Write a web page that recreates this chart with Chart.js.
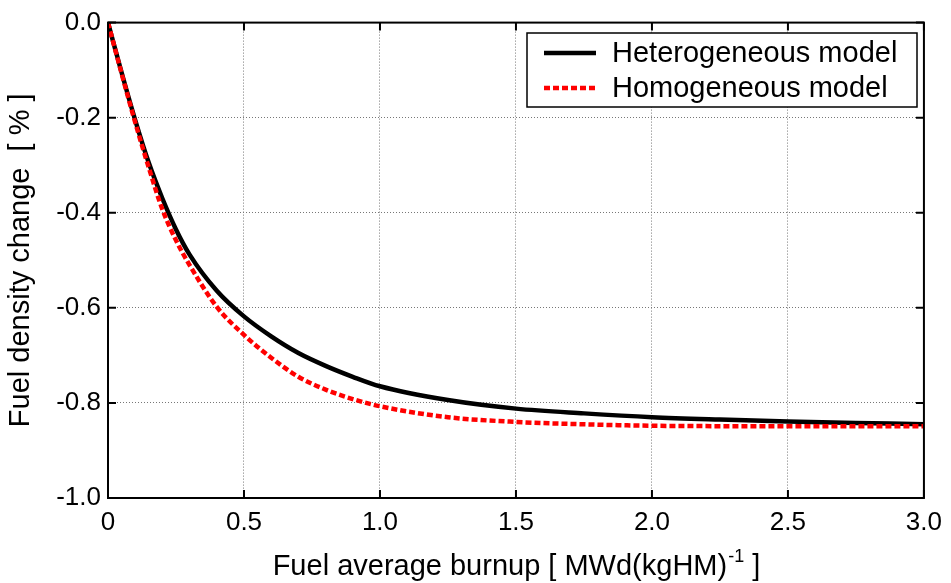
<!DOCTYPE html>
<html lang="en">
<head>
    <meta charset="UTF-8">
    <title>Fuel density change vs burnup</title>
    <script src="https://cdn.jsdelivr.net/npm/chart.js"></script>
    <style>
        body {
            margin: 0;
            background: #ffffff;
        }
        #myChart {
            display: block;
        }
    </style>
</head>
<body>

<canvas id="myChart" width="951" height="583"></canvas>

<script>
    // burnup points [MWd/kgHM]
    const burnupHetero = [0, 0.05, 0.1, 0.15, 0.2, 0.25, 0.3, 0.4, 0.5, 0.6, 0.7, 0.8, 0.9, 1.0, 1.25, 1.5, 1.75, 2.0, 2.25, 2.5, 2.75, 3.0];
    const densityHetero = [0, -0.105, -0.205, -0.295, -0.37, -0.435, -0.488, -0.564, -0.618, -0.66, -0.695, -0.722, -0.745, -0.765, -0.794, -0.812, -0.822, -0.830, -0.835, -0.839, -0.842, -0.845];

    const burnupHomo = [0, 0.05, 0.1, 0.15, 0.2, 0.25, 0.3, 0.4, 0.5, 0.6, 0.7, 0.8, 0.9, 1.0, 1.25, 1.5, 1.75, 2.0, 2.5, 3.0];
    const densityHomo = [0, -0.107, -0.21, -0.305, -0.393, -0.458, -0.51, -0.598, -0.657, -0.705, -0.745, -0.772, -0.792, -0.807, -0.830, -0.840, -0.845, -0.848, -0.849, -0.849];

    const xTickLabels = ['0', '0.5', '1.0', '1.5', '2.0', '2.5', '3.0'];
    const yTickLabels = ['-1.0', '-0.8', '-0.6', '-0.4', '-0.2', '0.0'];

    const seriesNames = ['Heterogeneous model', 'Homogeneous model'];

    const FONT = "'Liberation Sans', Arial, sans-serif";

    function toPoints(xs, ys) {
        return xs.map((x, i) => ({ x: x, y: ys[i] }));
    }

    // draws box, inward tick marks, legend and the x title with superscript
    const framePlugin = {
        id: 'frame',
        afterDraw(chart) {
            const ctx = chart.ctx;
            const area = chart.chartArea;
            const xs = chart.scales.x;
            const ys = chart.scales.y;
            const tickLen = 8;

            ctx.save();
            ctx.strokeStyle = '#000';
            ctx.lineWidth = 2;
            ctx.beginPath();
            xs.ticks.forEach(t => {
                let px = xs.getPixelForValue(t.value);
                ctx.moveTo(px, area.bottom);
                ctx.lineTo(px, area.bottom - tickLen);
                ctx.moveTo(px, area.top);
                ctx.lineTo(px, area.top + tickLen);
            });
            ys.ticks.forEach(t => {
                let py = ys.getPixelForValue(t.value);
                ctx.moveTo(area.left, py);
                ctx.lineTo(area.left + tickLen, py);
                ctx.moveTo(area.right, py);
                ctx.lineTo(area.right - tickLen, py);
            });
            ctx.stroke();
            ctx.strokeRect(area.left, area.top, area.right - area.left, area.bottom - area.top);

            // legend
            const lx = 527, ly = 33, lw = 390, lh = 74;
            ctx.fillStyle = '#fff';
            ctx.fillRect(lx, ly, lw, lh);
            ctx.lineWidth = 1.5;
            ctx.strokeRect(lx, ly, lw, lh);
            ctx.font = '29px ' + FONT;
            ctx.textBaseline = 'middle';
            chart.data.datasets.forEach((ds, i) => {
                let rowY = ly + 20 + i * 35;
                ctx.strokeStyle = ds.borderColor;
                ctx.lineWidth = ds.borderWidth;
                ctx.setLineDash(ds.borderDash || []);
                ctx.beginPath();
                ctx.moveTo(544, rowY);
                ctx.lineTo(596, rowY);
                ctx.stroke();
                ctx.setLineDash([]);
                ctx.fillStyle = '#000';
                ctx.fillText(ds.label, 612, rowY + 1);
            });

            // x axis title
            const main = 'Fuel average burnup [ MWd(kgHM)';
            const sup = '-1';
            const tail = ' ]';
            ctx.font = '29px ' + FONT;
            let wMain = ctx.measureText(main).width;
            let wTail = ctx.measureText(tail).width;
            ctx.font = '18px ' + FONT;
            let wSup = ctx.measureText(sup).width;
            let total = wMain + wSup + wTail;
            let sx = (area.left + area.right) / 2 - total / 2;
            let base = 575;
            ctx.textBaseline = 'alphabetic';
            ctx.fillStyle = '#000';
            ctx.font = '29px ' + FONT;
            ctx.fillText(main, sx, base);
            ctx.font = '18px ' + FONT;
            ctx.fillText(sup, sx + wMain + 1, base - 13);
            ctx.font = '29px ' + FONT;
            ctx.fillText(tail, sx + wMain + wSup + 1, base);
            ctx.restore();
        }
    };

    const ctx = document.getElementById('myChart').getContext('2d');
    const myChart = new Chart(ctx, {
        type: 'line',
        data: {
            datasets: [
                {
                    label: seriesNames[0],
                    data: toPoints(burnupHetero, densityHetero),
                    borderColor: '#000000',
                    borderWidth: 4.5,
                    pointRadius: 0,
                    cubicInterpolationMode: 'monotone',
                    fill: false,
                    order: 1
                },
                {
                    label: seriesNames[1],
                    data: toPoints(burnupHomo, densityHomo),
                    borderColor: '#ff0000',
                    borderWidth: 4.5,
                    borderDash: [6, 3],
                    pointRadius: 0,
                    cubicInterpolationMode: 'monotone',
                    fill: false,
                    order: 0
                }
            ]
        },
        options: {
            responsive: false,
            animation: false,
            layout: {
                padding: { top: 22, right: 23, left: 0, bottom: 0 }
            },
            plugins: {
                legend: { display: false },
                tooltip: { enabled: false }
            },
            scales: {
                x: {
                    type: 'linear',
                    min: 0,
                    max: 3,
                    afterFit(scale) { scale.height = 85; },
                    ticks: {
                        stepSize: 0.5,
                        color: '#000',
                        padding: 9,
                        maxRotation: 0,
                        font: { family: FONT, size: 26 },
                        callback: (value, index) => xTickLabels[index]
                    },
                    grid: {
                        color: '#777',
                        lineWidth: 1,
                        drawTicks: false
                    },
                    border: { display: false, dash: [1, 2] }
                },
                y: {
                    type: 'linear',
                    min: -1,
                    max: 0,
                    afterFit(scale) { scale.width = 108; },
                    ticks: {
                        stepSize: 0.2,
                        color: '#000',
                        padding: 7,
                        font: { family: FONT, size: 26 },
                        callback: (value, index) => yTickLabels[index]
                    },
                    grid: {
                        color: '#777',
                        lineWidth: 1,
                        drawTicks: false
                    },
                    border: { display: false, dash: [1, 2] },
                    title: {
                        display: true,
                        text: 'Fuel density change  [ % ]',
                        color: '#000',
                        font: { family: FONT, size: 29 },
                        padding: { top: 4, bottom: 0 }
                    }
                }
            }
        },
        plugins: [framePlugin]
    });
</script>

</body>
</html>
